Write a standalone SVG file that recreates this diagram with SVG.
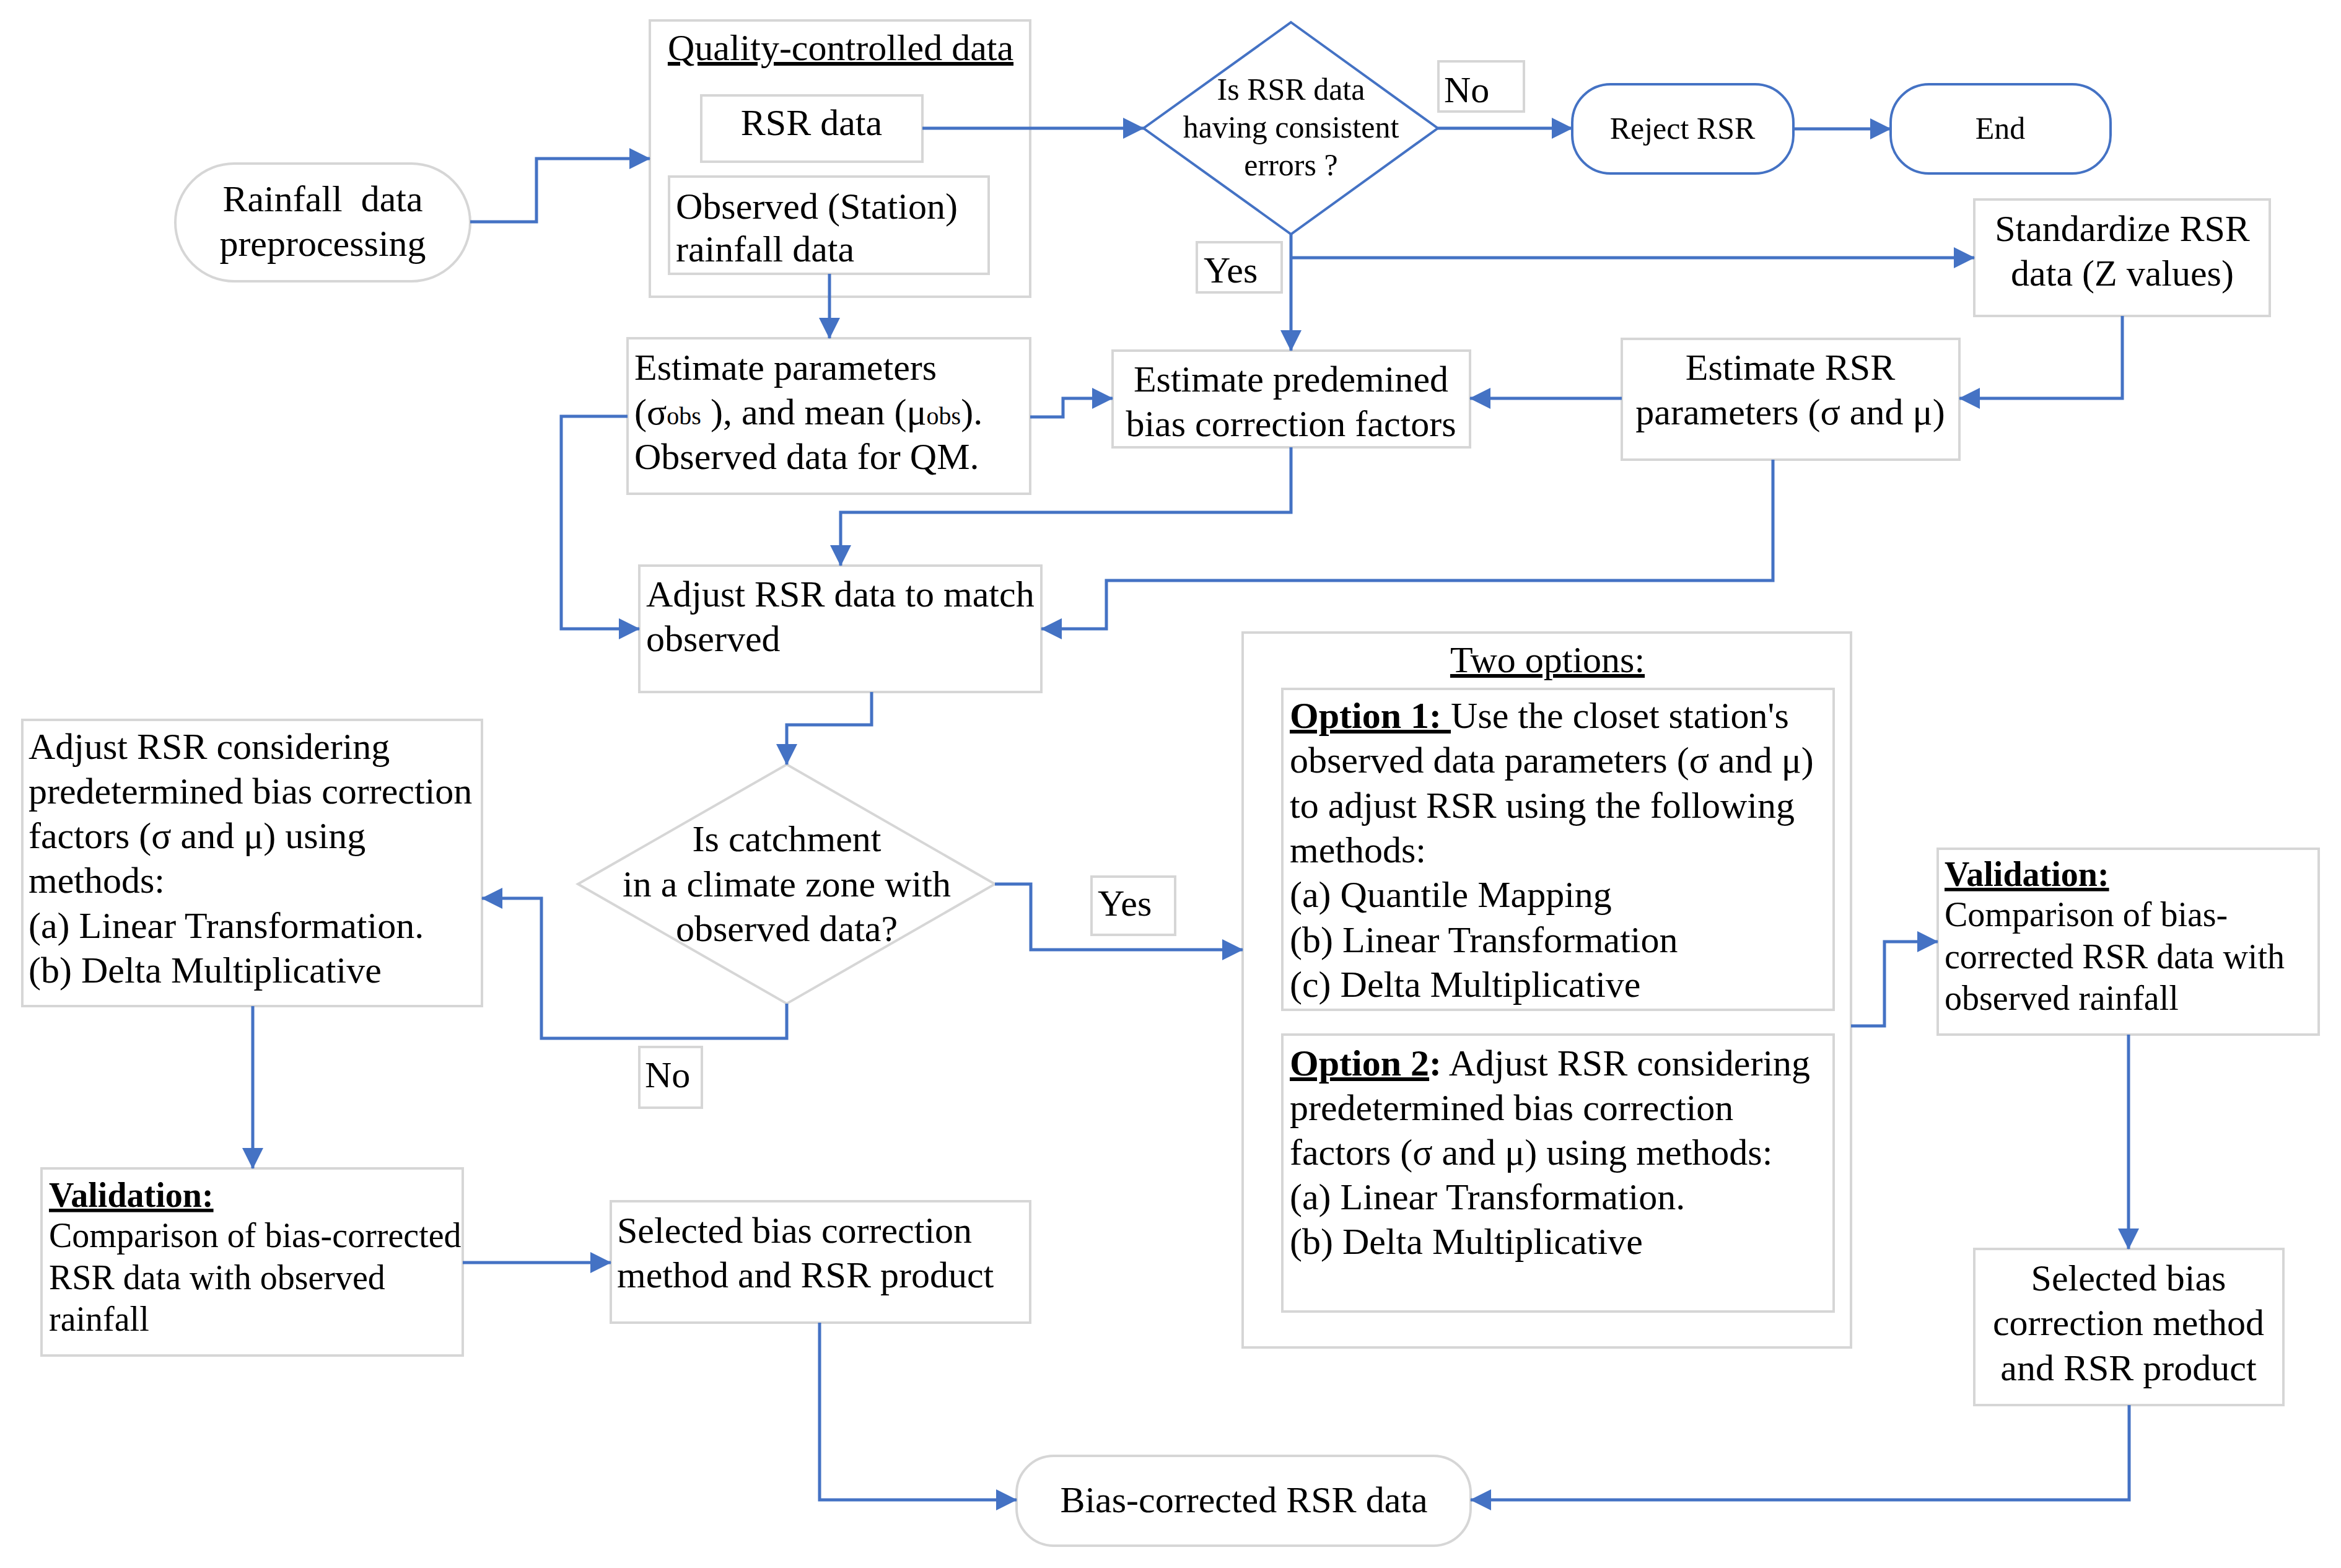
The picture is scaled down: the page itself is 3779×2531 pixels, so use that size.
<svg xmlns="http://www.w3.org/2000/svg" width="3779" height="2531" viewBox="0 0 3779 2531">
<style>
.box{fill:#fff;stroke:#d6d6d6;stroke-width:4}
.bbox{fill:#fff;stroke:#4472c4;stroke-width:4}
.t{font-family:"Liberation Serif","Times New Roman",serif;font-size:60px;fill:#000}
.s50{font-size:50px}
.s56{font-size:56px}
.c{text-anchor:middle}
.u{text-decoration:underline}
.b{font-weight:bold}
.sub{font-size:40px}
#connectors path{fill:none;stroke:#4472c4;stroke-width:5;marker-end:url(#ah)}
</style>
<defs>
<marker id="ah" markerUnits="userSpaceOnUse" markerWidth="34" markerHeight="34" refX="33" refY="17" orient="auto">
<path d="M0,0 L34,17 L0,34 z" fill="#4472c4"/>
</marker>
</defs>
<rect width="3779" height="2531" fill="#fff"/>

<g id="rainfall">
<rect class="box" x="283" y="264" width="476" height="190" rx="95" ry="95"/>
<text class="t c" x="521" y="341" xml:space="preserve">Rainfall  data</text>
<text class="t c" x="521" y="413">preprocessing</text>
</g>

<g id="qc-data">
<rect class="box" x="1049" y="33" width="614" height="446"/>
<text class="t c u" x="1357" y="97">Quality-controlled data</text>
</g>
<g id="rsr-data">
<rect class="box" x="1132" y="154" width="357" height="107"/>
<text class="t c" x="1310" y="218">RSR data</text>
</g>
<g id="observed-data">
<rect class="box" x="1080" y="285" width="516" height="157"/>
<text class="t" x="1091" y="353">Observed (Station)</text>
<text class="t" x="1091" y="422">rainfall data</text>
</g>

<g id="decision-errors">
<polygon points="2084,36 2321,207 2084,378 1846,207" fill="#fff" stroke="#4472c4" stroke-width="4"/>
<text class="t s50 c" x="2084" y="161">Is RSR data</text>
<text class="t s50 c" x="2084" y="222">having consistent</text>
<text class="t s50 c" x="2084" y="283">errors ?</text>
</g>
<g id="label-no1">
<rect class="box" x="2322" y="99" width="138" height="81"/>
<text class="t" x="2331" y="165">No</text>
</g>
<g id="reject-rsr">
<rect class="bbox" x="2538" y="136" width="357" height="144" rx="62" ry="62"/>
<text class="t s50 c" x="2716" y="224">Reject RSR</text>
</g>
<g id="end">
<rect class="bbox" x="3052" y="136" width="355" height="144" rx="62" ry="62"/>
<text class="t s50 c" x="3229" y="224">End</text>
</g>
<g id="label-yes1">
<rect class="box" x="1932" y="391" width="137" height="81"/>
<text class="t" x="1943" y="456">Yes</text>
</g>
<g id="standardize">
<rect class="box" x="3187" y="322" width="477" height="188"/>
<text class="t c" x="3426" y="389">Standardize RSR</text>
<text class="t c" x="3426" y="461">data (Z values)</text>
</g>

<g id="estimate-params">
<rect class="box" x="1013" y="546" width="650" height="251"/>
<text class="t" x="1024" y="613">Estimate parameters</text>
<text class="t" x="1024" y="685">(σ<tspan class="sub">obs</tspan> ), and mean (μ<tspan class="sub">obs</tspan>).</text>
<text class="t" x="1024" y="757">Observed data for QM.</text>
</g>
<g id="estimate-predemined">
<rect class="box" x="1796" y="566" width="577" height="156"/>
<text class="t c" x="2084" y="632">Estimate predemined</text>
<text class="t c" x="2084" y="704">bias correction factors</text>
</g>
<g id="estimate-rsr">
<rect class="box" x="2618" y="547" width="545" height="195"/>
<text class="t c" x="2890" y="613">Estimate RSR</text>
<text class="t c" x="2890" y="685">parameters (σ and μ)</text>
</g>

<g id="adjust-rsr">
<rect class="box" x="1032" y="913" width="649" height="204"/>
<text class="t" x="1043" y="979">Adjust RSR data to match</text>
<text class="t" x="1043" y="1051">observed</text>
</g>

<g id="adjust-considering">
<rect class="box" x="36" y="1162" width="742" height="462"/>
<text class="t" x="46" y="1225">Adjust RSR considering</text>
<text class="t" x="46" y="1297">predetermined bias correction</text>
<text class="t" x="46" y="1369">factors (σ and μ) using</text>
<text class="t" x="46" y="1441">methods:</text>
<text class="t" x="46" y="1514">(a) Linear Transformation.</text>
<text class="t" x="46" y="1586">(b) Delta Multiplicative</text>
</g>

<g id="decision-climate">
<polygon points="1270,1234 1606,1427 1270,1620 933,1427" fill="#fff" stroke="#d6d6d6" stroke-width="4"/>
<text class="t c" x="1270" y="1374">Is catchment</text>
<text class="t c" x="1270" y="1447">in a climate zone with</text>
<text class="t c" x="1270" y="1519">observed data?</text>
</g>
<g id="label-yes2">
<rect class="box" x="1762" y="1415" width="135" height="94"/>
<text class="t" x="1772" y="1478">Yes</text>
</g>
<g id="label-no2">
<rect class="box" x="1032" y="1690" width="101" height="98"/>
<text class="t" x="1041" y="1755">No</text>
</g>

<g id="two-options">
<rect class="box" x="2006" y="1021" width="982" height="1154"/>
<text class="t c u" x="2498" y="1085">Two options:</text>
</g>
<g id="option-1">
<rect class="box" x="2070" y="1112" width="890" height="518"/>
<text class="t" x="2082" y="1175"><tspan class="b u">Option 1: </tspan>Use the closet station's</text>
<text class="t" x="2082" y="1247">observed data parameters (σ and μ)</text>
<text class="t" x="2082" y="1320">to adjust RSR using the following</text>
<text class="t" x="2082" y="1392">methods:</text>
<text class="t" x="2082" y="1464">(a) Quantile Mapping</text>
<text class="t" x="2082" y="1537">(b) Linear Transformation</text>
<text class="t" x="2082" y="1609">(c) Delta Multiplicative</text>
</g>
<g id="option-2">
<rect class="box" x="2070" y="1670" width="890" height="447"/>
<text class="t" x="2082" y="1736"><tspan class="b u">Option 2</tspan><tspan class="b">:</tspan> Adjust RSR considering</text>
<text class="t" x="2082" y="1808">predetermined bias correction</text>
<text class="t" x="2082" y="1880">factors (σ and μ) using methods:</text>
<text class="t" x="2082" y="1952">(a) Linear Transformation.</text>
<text class="t" x="2082" y="2024">(b) Delta Multiplicative</text>
</g>

<g id="validation-right">
<rect class="box" x="3128" y="1370" width="615" height="300"/>
<text class="t s56 b u" x="3139" y="1430">Validation:</text>
<text class="t s56" x="3139" y="1495">Comparison of bias-</text>
<text class="t s56" x="3139" y="1563">corrected RSR data with</text>
<text class="t s56" x="3139" y="1630">observed rainfall</text>
</g>
<g id="selected-right">
<rect class="box" x="3187" y="2016" width="499" height="252"/>
<text class="t c" x="3436" y="2083">Selected bias</text>
<text class="t c" x="3436" y="2155">correction method</text>
<text class="t c" x="3436" y="2228">and RSR product</text>
</g>

<g id="validation-left">
<rect class="box" x="67" y="1886" width="680" height="302"/>
<text class="t s56 b u" x="79" y="1948">Validation:</text>
<text class="t s56" x="79" y="2013">Comparison of bias-corrected</text>
<text class="t s56" x="79" y="2081">RSR data with observed</text>
<text class="t s56" x="79" y="2148">rainfall</text>
</g>
<g id="selected-left">
<rect class="box" x="986" y="1939" width="677" height="196"/>
<text class="t" x="996" y="2006">Selected bias correction</text>
<text class="t" x="996" y="2078">method and RSR product</text>
</g>

<g id="bias-corrected">
<rect class="box" x="1641" y="2350" width="733" height="145" rx="60" ry="60"/>
<text class="t c" x="2008" y="2441">Bias-corrected RSR data</text>
</g>

<g id="connectors">
<path d="M759,358 H866 V256 H1049"/>
<path d="M1489,207 H1846"/>
<path d="M2321,207 H2538"/>
<path d="M2895,208 H3052"/>
<path d="M2084,378 V566"/>
<path d="M2084,416 H3187"/>
<path d="M1339,442 V546"/>
<path d="M3426,510 V643 H3163"/>
<path d="M2618,643 H2373"/>
<path d="M1663,673 H1716 V643 H1796"/>
<path d="M2084,722 V827 H1357 V913"/>
<path d="M2862,742 V937 H1786 V1015 H1681"/>
<path d="M1013,672 H906 V1015 H1032"/>
<path d="M1407,1117 V1170 H1270 V1234"/>
<path d="M1606,1427 H1664 V1533 H2006"/>
<path d="M1270,1620 V1676 H874 V1450 H778"/>
<path d="M408,1624 V1886"/>
<path d="M747,2038 H986"/>
<path d="M1323,2135 V2421 H1641"/>
<path d="M2988,1656 H3042 V1520 H3128"/>
<path d="M3436,1670 V2016"/>
<path d="M3437,2268 V2421 H2374"/>
</g>
</svg>
